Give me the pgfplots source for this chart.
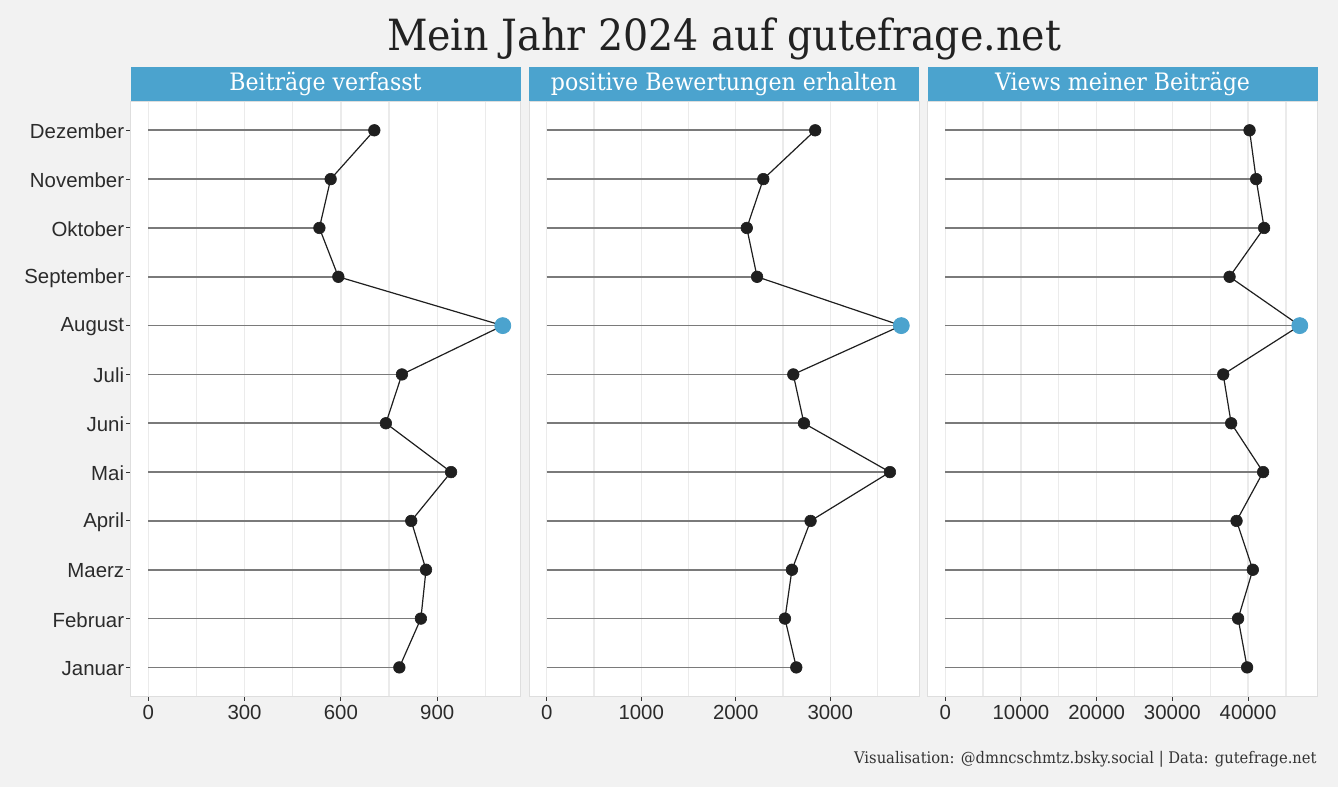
\documentclass[border=0pt]{standalone}
\usepackage{fontspec}
\setmainfont{Liberation Sans}
\newfontfamily\slab[FakeStretch=0.92]{DejaVu Serif}
\usepackage{pgfplots}
\usepackage{pgfplotstable}
\usetikzlibrary{calc}
\pgfplotsset{compat=1.18}
\definecolor{bgcol}{HTML}{F2F2F2}
\definecolor{stripcol}{HTML}{4BA3CE}
\definecolor{gridcol}{HTML}{EBEBEB}
\definecolor{bordercol}{HTML}{DEDEDE}
\definecolor{stemcol}{HTML}{7A7A7A}
\definecolor{linecol}{HTML}{1F1F1F}
\definecolor{tickcol}{HTML}{333333}
\definecolor{labcol}{HTML}{2B2B2B}
\definecolor{titlecol}{HTML}{222222}

\pgfplotstableread{
m v1 v2 v3
1 782 2641 39880
2 849 2521 38690
3 865 2595 40630
4 819 2792 38480
5 943 3632 41990
6 740 2722 37770
7 790 2609 36720
8 1104 3752 46834
9 592 2226 37560
10 533 2117 42124
11 568 2292 41070
12 704 2841 40197
}\data

\pgfplotsset{
  panel/.style={
    scale only axis, width=195pt, height=297.85pt, anchor=south west,
    ymin=0.4, ymax=12.6,
    axis background/.style={fill=white},
    axis line style={draw=bordercol, line width=0.5pt},
    xmajorgrids, xminorgrids,
    major grid style={draw=gridcol, line width=0.6pt},
    minor grid style={draw=gridcol, line width=0.6pt},
    tick align=outside, xtick pos=left, ytick pos=left,
    major tick length=2pt, minor tick length=0pt,
    tick style={draw=tickcol, line width=0.5pt},
    tick label style={font=\fontsize{10.2}{12}\selectfont, text=labcol},
    yticklabel style={inner sep=1pt, yshift=-0.6pt},
    xticklabel style={inner sep=2pt},
    /pgf/number format/assume math mode=true,
    /pgf/number format/1000 sep={},
    scaled x ticks=false,
    clip=false,
  },
  stem/.style={xcomb, draw=stemcol, line width=0.8pt, mark=none},
  pts/.style={draw=linecol, line width=0.6pt, mark=*, mark size=2.9pt,
    mark options={fill=linecol, draw=linecol, line width=0.3pt}},
  hl/.style={only marks, mark=*, mark size=4pt, mark options={fill=stripcol, draw=stripcol}},
}

\begin{document}
\begin{tikzpicture}
\fill[bgcol] (0,0) rectangle (669pt,-393.5pt);

\begin{axis}[panel, name=ax1, at={(65.25pt,-348.35pt)},
  xmin=-55.2, xmax=1159.2,
  xtick={0,300,600,900}, minor xtick={150,450,750,1050},
  ytick={1,...,12},
  yticklabels={Januar,Februar,Maerz,April,Mai,Juni,Juli,August,September,Oktober,November,Dezember}]
\addplot[stem] table[x=v1,y=m]{\data};
\addplot[pts] table[x=v1,y=m]{\data};
\addplot[hl] coordinates {(1104,8)};
\end{axis}

\begin{axis}[panel, name=ax2, at={(264.5pt,-348.35pt)},
  xmin=-187.6, xmax=3939.6,
  xtick={0,1000,2000,3000}, minor xtick={500,1500,2500,3500},
  ytick=\empty]
\addplot[stem] table[x=v2,y=m]{\data};
\addplot[pts] table[x=v2,y=m]{\data};
\addplot[hl] coordinates {(3752,8)};
\end{axis}

\begin{axis}[panel, name=ax3, at={(463.75pt,-348.35pt)},
  xmin=-2341.7, xmax=49175.7,
  xtick={0,10000,20000,30000,40000}, minor xtick={5000,15000,25000,35000,45000},
  ytick=\empty]
\addplot[stem] table[x=v3,y=m]{\data};
\addplot[pts] table[x=v3,y=m]{\data};
\addplot[hl] coordinates {(46834,8)};
\end{axis}

\foreach \a/\t in {ax1/{Beiträge verfasst}, ax2/{positive Bewertungen erhalten}, ax3/{Views meiner Beiträge}}{
  \fill[stripcol] (\a.north west) rectangle ([yshift=17pt]\a.north east);
  \node[text=white, font=\slab\fontsize{12}{14}\selectfont, inner sep=0pt]
    at ([yshift=8.5pt]$(\a.north west)!0.5!(\a.north east)$) {\t};
}

\node[text=titlecol, font=\slab\fontsize{21.5}{26}\selectfont, inner sep=0pt] at (362pt,-19.5pt) {Mein Jahr 2024 auf gutefrage.net};
\node[text=tickcol, font=\slab\fontsize{8}{9}\selectfont, inner sep=0pt, anchor=east] at (658.5pt,-379.5pt) {Visualisation: @dmncschmtz.bsky.social | Data: gutefrage.net};
\end{tikzpicture}
\end{document}
